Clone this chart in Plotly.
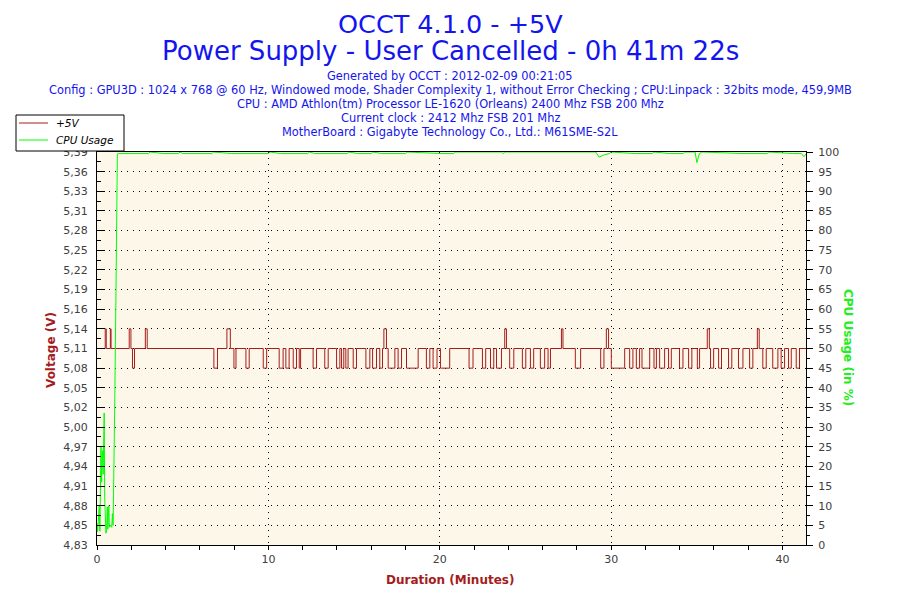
import numpy as np
import plotly.graph_objects as go

# voltage levels seen on the chart (V)
V_MID = 5.110
V_LOW = 5.082
V_HIGH = 5.138

# +5V trace: time of each level change (minutes) and the new level
volt_t = [
    0.00, 0.48, 0.54, 0.78, 0.82, 1.88, 1.98, 2.07, 2.19, 2.82, 2.93,
    6.82, 7.03, 7.58, 7.78, 7.99, 8.11, 8.69, 8.88, 9.70, 9.90,
    10.63, 10.86, 11.02, 11.21, 11.45, 11.64, 11.80, 11.88, 12.61, 12.81,
    13.29, 13.49, 13.98, 14.17, 14.27, 14.40, 14.52, 14.65, 14.95, 15.14,
    15.69, 15.92, 16.08, 16.31, 16.50, 16.66, 16.74, 16.89, 16.99, 17.38,
    17.57, 17.77, 18.06, 18.74, 19.22, 19.42, 19.61, 19.84, 20.04, 20.58,
    21.71, 21.94, 22.49, 22.68, 22.96, 23.15, 23.31, 23.60, 23.79, 23.89,
    24.08, 24.32, 24.82, 25.02, 25.29, 25.48, 25.87, 26.12, 26.32, 26.46,
    27.10, 27.19, 27.91, 28.22, 29.39, 29.58, 29.72, 29.85, 30.01, 30.79,
    31.08, 31.27, 31.47, 31.66, 31.80, 32.25, 32.50, 32.64, 32.83, 33.12,
    33.35, 33.51, 33.99, 34.19, 34.52, 34.71, 35.03, 35.16, 35.61, 35.73,
    35.80, 35.98, 36.27, 36.44, 36.85, 37.04, 37.43, 37.69, 38.08, 38.27,
    38.53, 38.64, 38.85, 39.05, 39.43, 39.73, 39.92, 40.12, 40.35, 40.51,
    40.80, 40.99, 41.37,
]
M, L, H = V_MID, V_LOW, V_HIGH
volt_v = [
    M, H, M, H, M, H, M, L, M, H, M,
    L, M, H, M, L, M, L, M, L, M,
    L, M, L, M, L, M, L, M, L, M,
    L, M, L, M, L, M, L, M, L, M,
    L, M, L, M, L, M, H, M, L, M,
    L, M, L, M, L, M, L, M, L, M,
    L, M, L, M, L, M, L, M, H, M,
    L, M, L, M, L, M, L, M, L, M,
    H, M, L, M, L, M, H, M, L, M,
    L, M, L, M, L, M, L, M, L, M,
    L, M, L, M, L, M, L, M, H, M,
    L, M, L, M, L, M, L, M, L, M,
    H, M, L, M, L, M, L, M, L, M,
    L, M, M,
]

# CPU usage (%)
cpu_t = [
    0.00, 0.03, 0.08, 0.13, 0.17, 0.23, 0.27, 0.31, 0.36, 0.42, 0.45, 0.48,
    0.52, 0.56, 0.60, 0.63, 0.69, 0.72, 0.80, 0.86, 0.90, 0.94, 0.98, 1.04,
    1.10, 1.14, 1.19, 1.22, 1.30,
    3.00, 3.10, 3.87, 4.74, 4.85, 5.00, 6.70, 6.80, 7.85, 9.99, 10.10,
    10.70, 12.30, 12.40, 12.70, 14.60, 14.70, 15.20, 16.00, 16.10, 16.60,
    18.00, 18.10, 20.10, 20.80, 20.90, 23.60, 23.70, 23.80, 29.10, 29.30,
    29.60, 29.90, 30.00, 31.40, 32.40, 32.50, 33.40, 34.20, 34.30, 34.90,
    35.00, 35.15, 35.30, 37.70, 39.10, 39.20, 40.60, 41.10, 41.25, 41.37,
]
cpu_v = [
    5.6, 3.4, 6.0, 10.0, 3.5, 25.0, 16.0, 24.0, 18.0, 33.6, 12.0, 4.7,
    3.0, 4.0, 9.7, 4.0, 10.0, 4.5, 5.0, 4.5, 8.0, 5.0, 15.0, 37.7,
    61.5, 87.0, 99.5, 99.6, 99.6,
    99.6, 100, 99.6, 99.6, 100, 99.6, 99.6, 100, 99.6, 99.6, 100,
    99.6, 99.6, 100, 99.6, 99.6, 100, 99.6, 99.6, 100, 99.6,
    99.6, 100, 99.6, 99.6, 100, 100, 99.6, 100, 100, 98.7,
    99.3, 99.6, 100, 99.6, 99.6, 100, 99.6, 99.6, 100, 100,
    97.3, 99.6, 100, 99.6, 99.6, 100, 99.6, 99.6, 98.8, 99.5,
]

# left axis tick labels as printed on the chart
volt_ticktext = [
    "4,83", "4,85", "4,88", "4,91", "4,94", "4,97", "5,00", "5,02", "5,05",
    "5,08", "5,11", "5,14", "5,16", "5,19", "5,22", "5,25", "5,28", "5,31",
    "5,33", "5,36", "5,39",
]
volt_min, volt_max = 4.83, 5.39
duration = 41.37

title_lines = ["OCCT 4.1.0 - +5V", "Power Supply - User Cancelled - 0h 41m 22s"]
info_lines = [
    "Generated by OCCT : 2012-02-09 00:21:05",
    "Config : GPU3D : 1024 x 768 @ 60 Hz, Windowed mode, Shader Complexity 1, "
    "without Error Checking ; CPU:Linpack : 32bits mode, 459,9MB",
    "CPU : AMD Athlon(tm) Processor LE-1620 (Orleans) 2400 Mhz FSB 200 Mhz",
    "Current clock : 2412 Mhz FSB 201 Mhz",
    "MotherBoard : Gigabyte Technology Co., Ltd.: M61SME-S2L",
]
legend_names = ["+5V", "CPU Usage"]

FONT = "DejaVu Sans"
BLUE = "#1414EE"
RED = "#A51C1C"
GREEN = "#00FF00"
GRAY = "#404040"

# the page body adds an 8px offset; layout below is in page pixels
OFF = 8
PL, PR, PT, PB = 97, 806, 152, 545

volt_ticks = np.linspace(volt_min, volt_max, len(volt_ticktext))
volt_step = volt_ticks[1] - volt_ticks[0]


def px(x):
    return (x - PL) / (PR - PL)


def py(y):
    return (PB - y) / (PB - PT)


fig = go.Figure()
fig.add_trace(go.Scatter(
    x=volt_t, y=volt_v, name=legend_names[0], mode="lines",
    line=dict(color=RED, width=1, shape="hv"),
    yaxis="y", showlegend=False,
))
fig.add_trace(go.Scatter(
    x=cpu_t, y=cpu_v, name=legend_names[1], mode="lines",
    line=dict(color=GREEN, width=1),
    yaxis="y2", showlegend=False,
))

annotations = []
for txt, yc, size in zip(title_lines, [23.5, 51], [25.5, 26]):
    annotations.append(dict(
        text=txt, x=px(450), y=py(yc), xref="paper", yref="paper",
        showarrow=False, xanchor="center", yanchor="middle", borderpad=0,
        font=dict(family=FONT, size=size, color=BLUE),
    ))
for i, txt in enumerate(info_lines):
    annotations.append(dict(
        text=txt, x=px(450), y=py(76 + 14 * i), xref="paper", yref="paper",
        showarrow=False, xanchor="center", yanchor="middle",
        font=dict(family=FONT, size=11.4, color=BLUE),
    ))
annotations += [
    dict(text="<b>Voltage (V)</b>", x=px(51), y=py(350),
         xref="paper", yref="paper", showarrow=False, textangle=-90,
         xanchor="center", yanchor="middle",
         font=dict(family=FONT, size=12, color=RED)),
    dict(text="<b>CPU Usage (in %)</b>", x=px(848), y=py(348),
         xref="paper", yref="paper", showarrow=False, textangle=90,
         xanchor="center", yanchor="middle",
         font=dict(family=FONT, size=12, color="#22EE22")),
    dict(text="<b>Duration (Minutes)</b>", x=px(450), y=py(580),
         xref="paper", yref="paper", showarrow=False,
         xanchor="center", yanchor="middle",
         font=dict(family=FONT, size=12, color=RED)),
]

# legend box drawn by hand so it keeps the compact OCCT look
shapes = [dict(type="rect", xref="paper", yref="paper",
               x0=px(16), x1=px(124), y0=py(151), y1=py(115),
               fillcolor="white", line=dict(color="black", width=1),
               layer="above")]
for name, color, yc in zip(legend_names, [RED, GREEN], [123, 140]):
    shapes.append(dict(type="line", xref="paper", yref="paper",
                       x0=px(19), x1=px(48), y0=py(yc), y1=py(yc),
                       line=dict(color=color, width=1), layer="above"))
    annotations.append(dict(
        text="<i>" + name + "</i>", x=px(54), y=py(yc), xref="paper",
        yref="paper", showarrow=False, xanchor="left", yanchor="middle",
        font=dict(family=FONT, size=10.5, color="black"),
    ))

fig.update_layout(
    width=900, height=600,
    margin=dict(l=PL - OFF, r=900 - PR + OFF, t=PT - OFF, b=600 - PB + OFF,
                autoexpand=False),
    paper_bgcolor="white",
    plot_bgcolor="#FDF7E9",
    font=dict(family=FONT, size=11, color=GRAY),
    annotations=annotations,
    shapes=shapes,
    showlegend=False,
    xaxis=dict(
        range=[0, duration], tickvals=[0, 10, 20, 30, 40],
        showline=True, linecolor="black", linewidth=1, mirror=True,
        ticks="outside", ticklen=4, tickcolor="black",
        minor=dict(dtick=2, tick0=0, ticks="outside", ticklen=4,
                   tickcolor="black", showgrid=False),
        showgrid=True, gridcolor="black", gridwidth=1, griddash="1px,5px",
        zeroline=False, tickfont=dict(size=11, color=GRAY),
    ),
    yaxis=dict(
        range=[volt_min, volt_max], tickvals=volt_ticks, ticktext=volt_ticktext,
        showline=True, linecolor="black", linewidth=1,
        ticks="inside", ticklen=8, tickcolor="black",
        minor=dict(dtick=volt_step / 2, tick0=volt_min, ticks="inside",
                   ticklen=4, tickcolor="black", showgrid=False),
        showgrid=True, gridcolor="black", gridwidth=1, griddash="1px,5px",
        zeroline=False, ticklabelstandoff=6,
        tickfont=dict(size=11, color=GRAY),
    ),
    yaxis2=dict(
        range=[0, 100], overlaying="y", side="right", dtick=5,
        showline=True, linecolor="black", linewidth=1,
        ticks="outside", ticklen=6, tickcolor="black",
        minor=dict(dtick=2.5, ticks="outside", ticklen=3, tickcolor="black"),
        showgrid=False, zeroline=False, ticklabelstandoff=3,
        tickfont=dict(size=11, color=GRAY),
    ),
)

fig.write_html("out.html")
